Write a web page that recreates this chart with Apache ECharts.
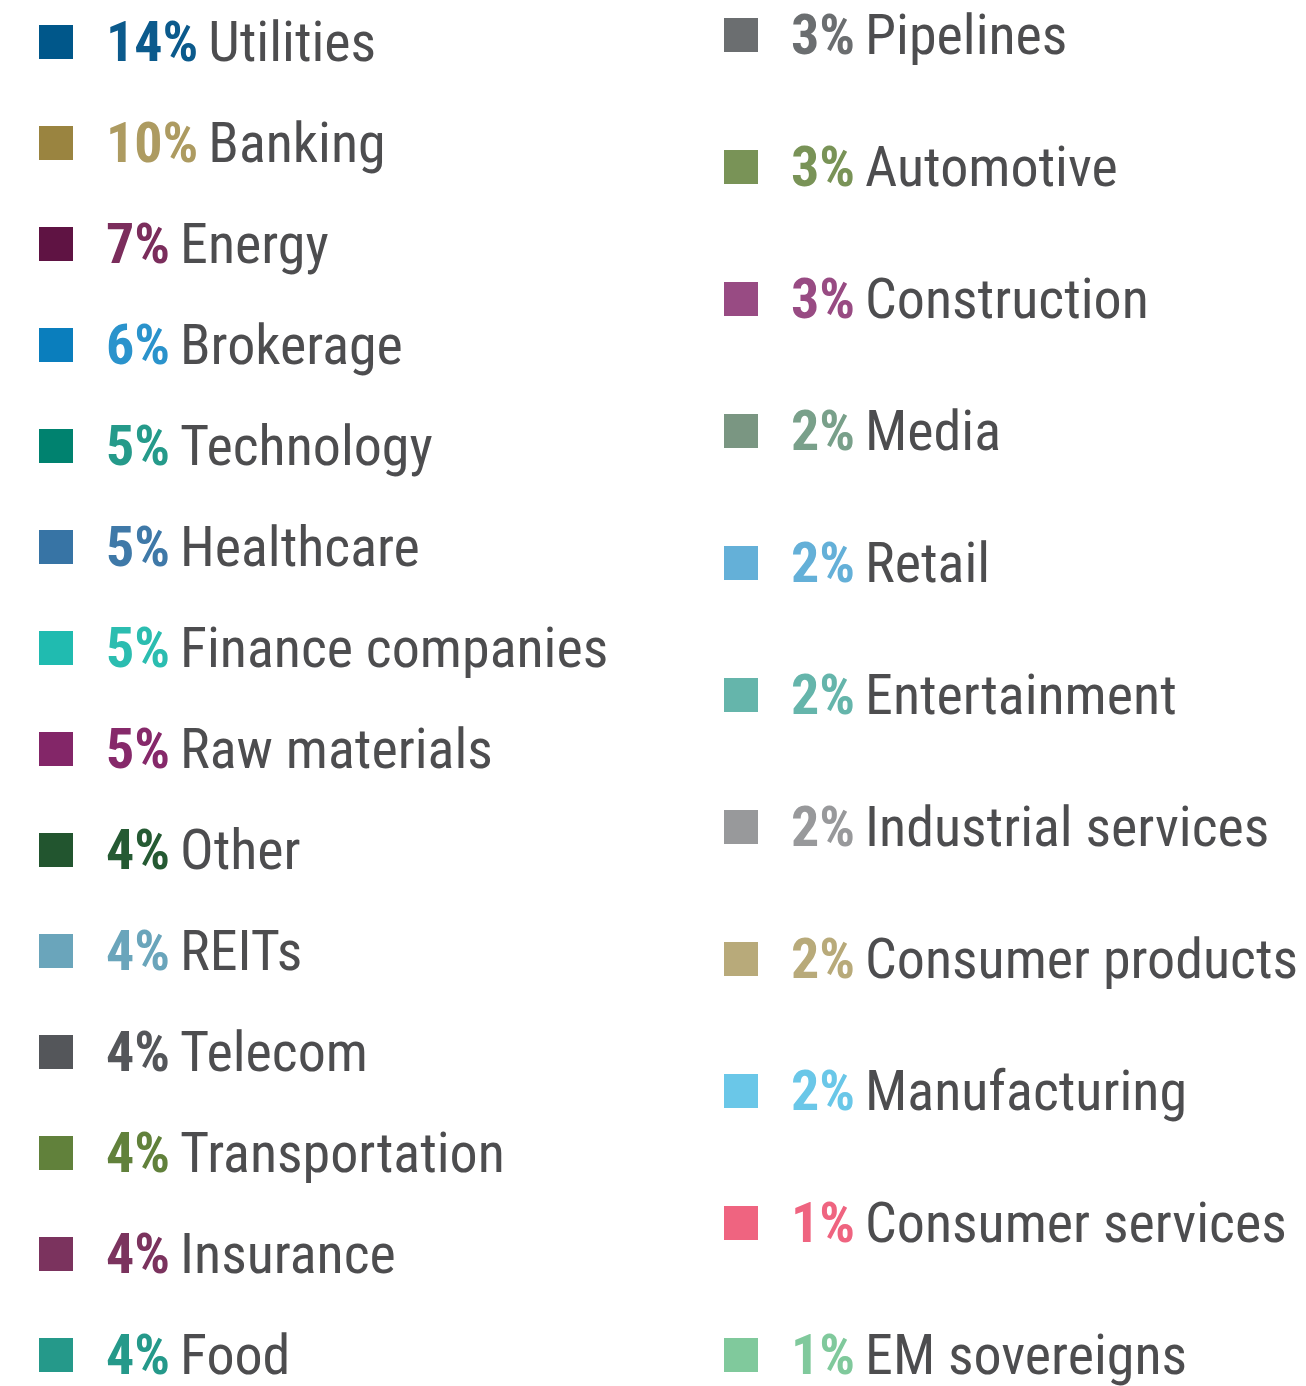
<!DOCTYPE html>
<html>
<head>
<meta charset="utf-8">
<script src="https://cdn.jsdelivr.net/npm/echarts@6/dist/echarts.min.js"></script>
<style>
html,body{margin:0;padding:0;background:#fff;}
#chart{width:1306px;height:1386px;}
</style>
</head>
<body>
<div id="chart"></div>
<script>
// Left column
const leftNames = ['Utilities','Banking','Energy','Brokerage','Technology','Healthcare','Finance companies','Raw materials','Other','REITs','Telecom','Transportation','Insurance','Food'];
const leftValues = [14,10,7,6,5,5,5,5,4,4,4,4,4,4];
const leftColors = ['#00578a','#9a8440','#5f1343','#0a7ebd','#00826f','#3774a5','#20bbb0','#832668','#22552f','#6aa5bb','#54565a','#61813b','#7b335e','#25998a'];
const leftTextColors = ['#0b5a8c','#ad9b61','#7b2d5c','#2a93cc','#259a8a','#3f79a8','#2bbdb0','#86296a','#255a33','#6aa5bb','#54565a','#61813b','#7b335e','#25998a'];
// Right column
const rightNames = ['Pipelines','Automotive','Construction','Media','Retail','Entertainment','Industrial services','Consumer products','Manufacturing','Consumer services','EM sovereigns'];
const rightValues = [3,3,3,2,2,2,2,2,2,1,1];
const rightColors = ['#6b6e70','#799357','#984b83','#7a9682','#64b0d8','#65b5ab','#98999b','#b8aa7a','#6ac7e8','#ef6480','#80c99c'];
const rightTextColors = ['#6b6e70','#799357','#984b83','#79a08a','#64b0d8','#65b5ab','#98999b','#b8aa7a','#6ac7e8','#ef6480','#80c99c'];

const FONT = "'Roboto Condensed', 'Liberation Sans Narrow', 'DejaVu Sans Condensed', Roboto, sans-serif";
const FS = 56;
const LH = 58;
const PADTOP = 10;
const BOX = LH + PADTOP;

const allNames = leftNames.concat(rightNames);
const allValues = leftValues.concat(rightValues);
const allColors = leftColors.concat(rightColors);
const allTextColors = leftTextColors.concat(rightTextColors);

const rich = { n: { fontFamily: FONT, fontSize: FS, color: '#4d4d4f', lineHeight: LH, padding: [0, 0, 0, 10] } };
allNames.forEach((nm, i) => {
  rich['p' + i] = { fontFamily: FONT, fontSize: FS, fontWeight: 'bold', color: allTextColors[i], lineHeight: LH, padding: [0, 0, 0, 28] };
});

function fmt(name) {
  const i = allNames.indexOf(name);
  return '{p' + i + '|' + allValues[i] + '%}{n|' + name + '}';
}

function legendData(names, colors) {
  return names.map((n, i) => ({ name: n, icon: 'rect', itemStyle: { color: colors[i] } }));
}

const option = {
  animation: false,
  backgroundColor: '#ffffff',
  legend: [
    {
      orient: 'vertical', left: 39, top: 25 - BOX / 2 + 17, padding: 0, height: 2000,
      itemWidth: 34, itemHeight: 34, itemGap: 101 - BOX,
      selectedMode: false,
      data: legendData(leftNames, leftColors),
      formatter: fmt,
      textStyle: { rich: rich, fontFamily: FONT, fontSize: FS, lineHeight: LH, padding: [PADTOP, 0, 0, 0] }
    },
    {
      orient: 'vertical', left: 724, top: 18 - BOX / 2 + 17, padding: 0, height: 2000,
      itemWidth: 34, itemHeight: 34, itemGap: 132 - BOX,
      selectedMode: false,
      data: legendData(rightNames, rightColors),
      formatter: fmt,
      textStyle: { rich: rich, fontFamily: FONT, fontSize: FS, lineHeight: LH, padding: [PADTOP, 0, 0, 0] }
    }
  ],
  series: [{
    type: 'pie',
    radius: [0, 0],
    center: [-200, -200],
    silent: true,
    label: { show: false },
    labelLine: { show: false },
    data: allNames.map((n, i) => ({ name: n, value: allValues[i], itemStyle: { color: allColors[i] } }))
  }]
};

const chart = echarts.init(document.getElementById('chart'), null, { renderer: 'canvas' });
chart.setOption(option);
</script>
</body>
</html>
